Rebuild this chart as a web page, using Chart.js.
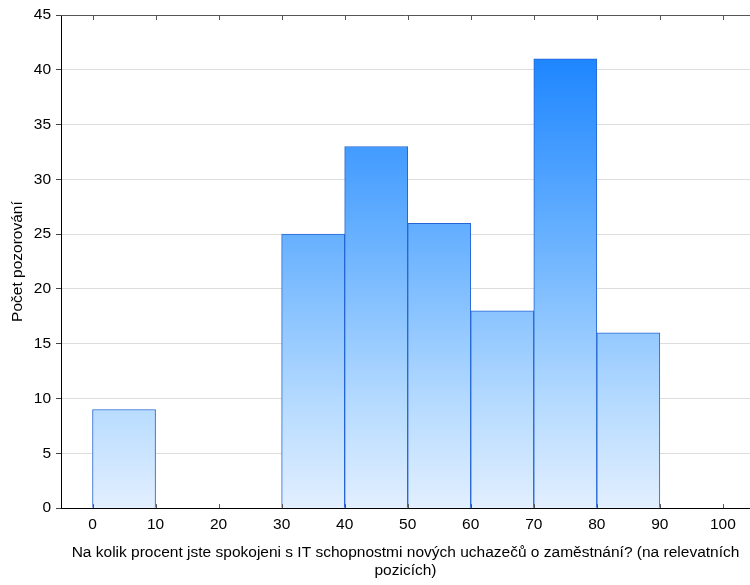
<!DOCTYPE html>
<html>
<head>
<meta charset="utf-8">
<script src="https://cdn.jsdelivr.net/npm/chart.js@4/dist/chart.umd.min.js"></script>
<style>
  html, body { margin: 0; padding: 0; background: #fff; }
  #wrap { width: 750px; height: 585px; }
</style>
</head>
<body>
<div id="wrap"><canvas id="myChart"></canvas></div>
<script>
//Bin edges of the histogram (percent)
const binEdges = [0, 10, 20, 30, 40, 50, 60, 70, 80, 90, 100];
//Count of answers in each bin
const counts = [9, 0, 0, 25, 33, 26, 18, 41, 16, 0];
//Y axis ticks
const yTicks = [0, 5, 10, 15, 20, 25, 30, 35, 40, 45];

const xTitle = ['Na kolik procent jste spokojeni s IT schopnostmi nových uchazečů o zaměstnání? (na relevatních', 'pozicích)'];
const yTitle = 'Počet pozorování';

//Building bar points at bin centers
let bars = [];
for (let i = 0; i < counts.length; i++) {
  if (counts[i] > 0) {
    bars.push({ x: (binEdges[i] + binEdges[i + 1]) / 2, y: counts[i] });
  }
}

//Gradient for the bars, light at the bottom and strong blue at the top
function barGradient(context) {
  const chart = context.chart;
  const area = chart.chartArea;
  if (!area) return '#8cc4ff';
  const yScale = chart.scales.y;
  const bottom = yScale.getPixelForValue(0);
  const top = yScale.getPixelForValue(Math.max(...counts));
  const g = chart.ctx.createLinearGradient(0, bottom, 0, top);
  g.addColorStop(0, '#e2efff');
  g.addColorStop(0.22, '#b8dcff');
  g.addColorStop(0.61, '#66b0ff');
  g.addColorStop(1, '#1e86ff');
  return g;
}

//Plugin drawing the top frame line and the inner tick marks on x
const frameTicks = {
  id: 'frameTicks',
  afterDatasetsDraw(chart) {
    const ctx = chart.ctx;
    const area = chart.chartArea;
    const xScale = chart.scales.x;
    ctx.save();
    ctx.lineWidth = 1;
    ctx.strokeStyle = '#555555';
    ctx.beginPath();
    ctx.moveTo(area.left, area.top + 0.5);
    ctx.lineTo(area.right, area.top + 0.5);
    ctx.stroke();
    binEdges.forEach(v => {
      const px = Math.round(xScale.getPixelForValue(v)) + 0.5;
      ctx.beginPath();
      ctx.moveTo(px, area.top);
      ctx.lineTo(px, area.top + 5);
      ctx.stroke();
      ctx.beginPath();
      ctx.moveTo(px, area.bottom);
      ctx.lineTo(px, area.bottom - 4);
      ctx.stroke();
    });
    ctx.restore();
  }
};

const data = {
  datasets: [{
    data: bars,
    backgroundColor: barGradient,
    borderColor: '#2566d4',
    borderWidth: 1,
    barPercentage: 1,
    categoryPercentage: 1,
    grouped: false
  }]
};

const config = {
  type: 'bar',
  data: data,
  options: {
    responsive: true,
    maintainAspectRatio: false,
    animation: false,
    layout: { padding: { top: 15, right: 0, bottom: 5, left: 0 } },
    plugins: {
      legend: { display: false },
      tooltip: { enabled: false }
    },
    scales: {
      x: {
        type: 'linear',
        offset: false,
        min: -5,
        max: 104.3,
        afterBuildTicks: scale => {
          scale.ticks = binEdges.map(v => ({ value: v }));
        },
        grid: { display: false, drawTicks: false },
        border: { display: true, color: '#000000', width: 1 },
        ticks: {
          color: '#000000',
          font: { family: 'Liberation Sans', size: 15.5 },
          padding: 7,
          maxRotation: 0
        },
        title: {
          display: true,
          text: xTitle,
          color: '#000000',
          font: { family: 'Liberation Sans', size: 15.5, lineHeight: 1.17 },
          padding: { top: 3, bottom: 0 }
        }
      },
      y: {
        min: 0,
        max: 45,
        afterBuildTicks: scale => {
          scale.ticks = yTicks.map(v => ({ value: v }));
        },
        afterFit: scale => {
          scale.width = 61;
        },
        grid: {
          color: '#dddddd',
          tickColor: '#444444',
          tickLength: 5
        },
        border: { display: true, color: '#000000', width: 1 },
        ticks: {
          color: '#000000',
          font: { family: 'Liberation Sans', size: 15.5 },
          padding: 5
        },
        title: {
          display: true,
          text: yTitle,
          color: '#000000',
          font: { family: 'Liberation Sans', size: 15.5 },
          padding: { top: 8, bottom: 2 }
        }
      }
    }
  },
  plugins: [frameTicks]
};

new Chart(document.getElementById('myChart').getContext('2d'), config);
</script>
</body>
</html>
